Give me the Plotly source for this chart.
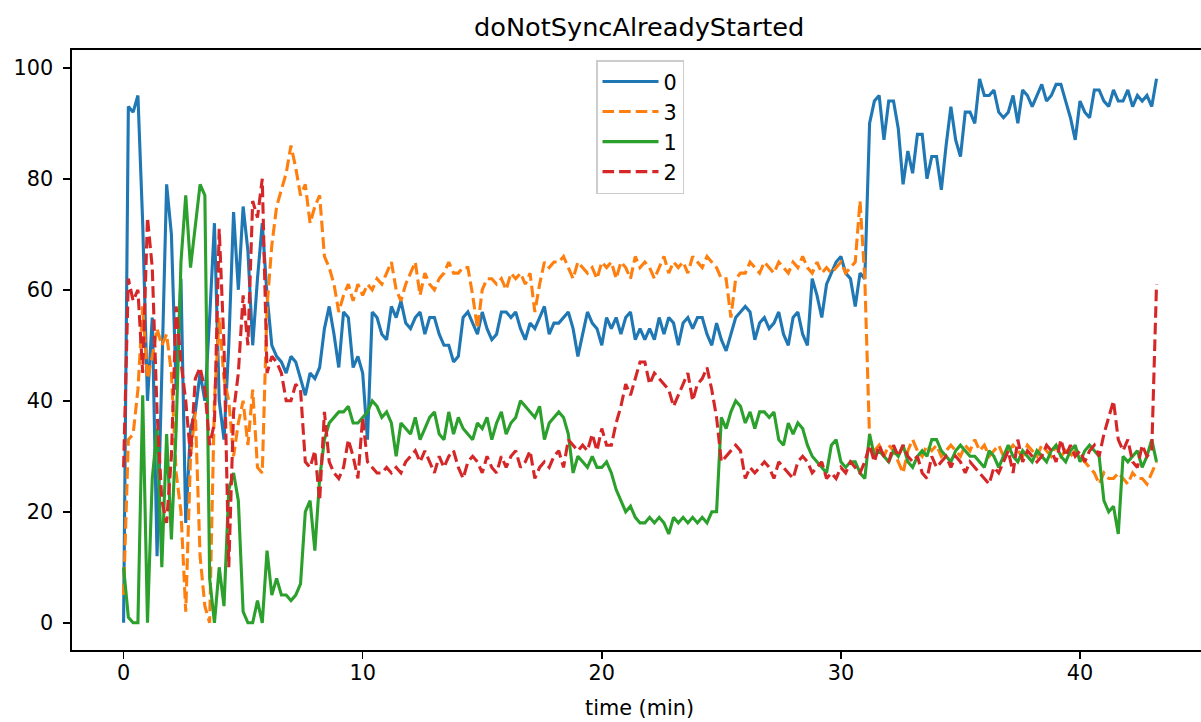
import numpy as np
import plotly.graph_objects as go

# sampling step of the recorded series (minutes)
STEP_MIN = 0.2

# each row = one minute (5 samples, 0.2 min apart)
series_0 = [
    0, 93, 92, 95, 72,
    40, 55, 12, 45, 79,
    70, 42, 62, 18, 35,
    38, 45, 40, 55, 72,
    40, 33, 50, 74, 60,
    75, 67, 50, 62, 72,
    59, 50, 48, 47, 45,
    48, 47, 44, 41, 45,
    44, 46, 53, 57, 52,
    46, 56, 55, 46, 48,
    45, 33, 56, 55, 52,
    51, 57, 55, 58, 54,
    53, 55, 56, 52, 55,
    55, 52, 50, 50, 47,
    48, 55, 56, 54, 52,
    56, 53, 51, 52, 56,
    56, 55, 56, 53, 51,
    54, 53, 55, 57, 52,
    54, 54, 55, 56, 53,
    48, 52, 56, 54, 53,
    50, 55, 53, 55, 52,
    55, 56, 51, 53, 51,
    53, 51, 55, 52, 55,
    54, 50, 54, 55, 53,
    55, 55, 52, 50, 54,
    51, 49, 52, 55, 56,
    57, 56, 51, 54, 55,
    53, 54, 56, 52, 50,
    55, 56, 52, 50, 62,
    59, 55, 61, 63, 65,
    66, 63, 62, 57, 63,
    62, 90, 94, 95, 87,
    94, 94, 89, 79, 85,
    81, 88, 88, 80, 84,
    84, 78, 86, 93, 87,
    84, 92, 92, 90, 98,
    95, 95, 96, 92, 91,
    92, 95, 90, 96, 95,
    93, 95, 97, 94, 95,
    97, 97, 94, 91, 87,
    94, 92, 91, 96, 96,
    94, 93, 96, 94, 94,
    96, 93, 95, 94, 95,
    93, 98,
]

series_3 = [
    5, 33, 34, 42, 57,
    44, 48, 53, 50, 52,
    45, 27, 20, 2, 30,
    38, 12, 3, 0, 40,
    55, 44, 40, 30, 36,
    40, 32, 42, 28, 27,
    57, 68, 75, 78, 81,
    86, 82, 77, 79, 72,
    75, 77, 66, 64, 61,
    56, 59, 61, 58, 61,
    59, 61, 60, 62, 61,
    63, 65, 60, 58, 61,
    63, 65, 59, 63, 61,
    60, 62, 63, 65, 63,
    63, 64, 64, 59, 53,
    60, 62, 62, 61, 62,
    60, 63, 62, 63, 61,
    63, 56, 61, 65, 64,
    65, 65, 66, 64, 62,
    65, 64, 63, 64, 62,
    65, 64, 65, 62, 65,
    64, 62, 66, 64, 65,
    64, 62, 64, 66, 63,
    65, 64, 65, 63, 66,
    65, 64, 66, 65, 64,
    62, 62, 55, 62, 63,
    63, 65, 64, 63, 65,
    64, 63, 65, 64, 63,
    65, 64, 66, 64, 63,
    65, 63, 64, 63, 64,
    65, 63, 64, 65, 76,
    62, 33, 31, 32, 30,
    32, 31, 29, 27, 31,
    33, 31, 30, 32, 31,
    32, 30, 31, 32, 31,
    30, 32, 31, 33, 31,
    32, 30, 31, 32, 30,
    31, 32, 31, 30, 32,
    31, 30, 32, 31, 30,
    32, 30, 31, 30, 31,
    30, 29, 28, 27, 25,
    27, 26, 26, 27, 26,
    25, 27, 26, 26, 25,
    27, 29,
]

series_1 = [
    10, 1, 0, 0, 41,
    0, 26, 35, 10, 34,
    15, 35, 65, 77, 64,
    72, 79, 77, 8, 0,
    10, 3, 24, 27, 22,
    2, 0, 0, 4, 0,
    13, 5, 8, 5, 5,
    4, 5, 7, 20, 22,
    13, 26, 33, 36, 37,
    38, 38, 39, 36, 36,
    37, 38, 40, 39, 37,
    38, 36, 30, 36, 35,
    34, 37, 33, 35, 37,
    38, 34, 33, 38, 34,
    37, 35, 34, 33, 36,
    35, 37, 33, 36, 38,
    34, 36, 37, 40, 39,
    38, 37, 39, 33, 36,
    37, 38, 37, 34, 27,
    30, 29, 28, 30, 28,
    28, 29, 27, 24, 22,
    20, 21, 19, 18, 18,
    19, 18, 19, 18, 16,
    19, 18, 19, 18, 19,
    18, 19, 18, 20, 20,
    37, 35, 38, 40, 39,
    36, 38, 35, 38, 38,
    37, 38, 33, 32, 36,
    34, 36, 35, 32, 30,
    29, 28, 27, 32, 33,
    29, 28, 29, 29, 27,
    26, 34, 30, 31, 30,
    29, 31, 30, 32, 29,
    28, 30, 31, 30, 33,
    33, 31, 30, 29, 31,
    32, 31, 30, 30, 29,
    28, 31, 30, 28, 30,
    32, 30, 29, 31, 30,
    29, 31, 30, 29, 31,
    32, 30, 29, 31, 32,
    29, 31, 32, 31, 30,
    22, 20, 21, 16, 30,
    29, 30, 31, 28, 30,
    33, 29,
]

series_2 = [
    28, 62, 58, 60, 45,
    73, 64, 38, 22, 18,
    30, 57, 47, 40, 30,
    44, 46, 42, 32, 36,
    71, 50, 10, 38, 45,
    59, 50, 76, 73, 80,
    45, 48, 47, 45, 40,
    40, 43, 42, 29, 28,
    31, 22, 38, 29, 27,
    26, 28, 33, 30, 26,
    37, 29, 28, 27, 27,
    28, 27, 28, 27, 29,
    30, 31, 29, 31, 29,
    27, 30, 28, 30, 31,
    28, 26, 29, 30, 29,
    27, 30, 28, 27, 30,
    28, 30, 31, 28, 29,
    31, 26, 28, 29, 28,
    30, 31, 28, 33, 32,
    31, 32, 31, 34, 31,
    35, 32, 32, 36, 39,
    43, 41, 44, 47, 47,
    43, 45, 44, 43, 42,
    39, 41, 43, 45, 40,
    43, 44, 46, 42, 37,
    29, 30, 31, 32, 31,
    26, 28, 27, 28, 29,
    28, 26, 29, 28, 27,
    26, 29, 30, 29, 27,
    28, 29, 26, 27, 26,
    28, 27, 29, 28, 27,
    29, 32, 29, 32, 30,
    29, 32, 30, 32, 30,
    29, 30, 27, 26, 30,
    28, 29, 30, 28, 30,
    29, 27, 29, 28, 27,
    26, 25, 28, 27, 29,
    31, 27, 33, 29, 31,
    30, 29, 30, 32, 31,
    29, 33, 30, 32, 30,
    31, 29, 31, 32, 30,
    34, 37, 40, 33, 31,
    33, 29, 28, 32, 30,
    31, 61,
]

series_names = ["0", "3", "1", "2"]
series_values = [series_0, series_3, series_1, series_2]
series_colors = ["#1f77b4", "#ff7f0e", "#2ca02c", "#d62728"]
series_dash = ["solid", "11.6px,5px", "solid", "11.6px,5px"]

x_ticks = [0, 10, 20, 30, 40]
y_ticks = [0, 20, 40, 60, 80, 100]

title_text = "doNotSyncAlreadyStarted"
xlabel_text = "time (min)"

FONT = "DejaVu Sans"
W, H = 1201, 722
ML, MR, MT, MB = 72, 0, 50, 72
PW, PH = W - ML - MR, H - MT - MB


def px_x(px):
    return (px - ML) / PW


def px_y(py):
    return (H - MB - py) / PH


fig = go.Figure()
for name, vals, col, dash in zip(series_names, series_values, series_colors, series_dash):
    t = np.round(np.arange(len(vals)) * STEP_MIN, 2)
    fig.add_trace(go.Scatter(
        x=t, y=vals, mode="lines", name=name,
        line=dict(color=col, width=3.1, dash=dash),
        hoverinfo="skip",
    ))

axis_common = dict(
    showgrid=False, zeroline=False,
    showline=True, linecolor="black", linewidth=1.6,
    ticks="outside", ticklen=7, tickwidth=1.6, tickcolor="black",
    tickfont=dict(family=FONT, size=20.8, color="black"),
)

fig.update_layout(
    width=W, height=H, autosize=False,
    margin=dict(l=ML, r=MR, t=MT, b=MB, pad=0),
    paper_bgcolor="white", plot_bgcolor="white",
    font=dict(family=FONT, color="black"),
    xaxis=dict(range=[-2.157, 45.06], tickvals=x_ticks, mirror=True,
               ticklabelstandoff=-4, **axis_common),
    yaxis=dict(range=[-4.9, 103.2], tickvals=y_ticks, mirror=False,
               ticklabelstandoff=6, **axis_common),
    showlegend=True,
    legend=dict(
        x=px_x(596), y=px_y(60),
        xanchor="left", yanchor="top",
        bgcolor="rgba(255,255,255,0.8)", bordercolor="#cccccc", borderwidth=1.5,
        font=dict(family=FONT, size=20.8, color="black"),
        tracegroupgap=0, itemwidth=56,
    ),
    annotations=[
        dict(text=title_text, xref="paper", yref="paper",
             x=px_x(639), y=px_y(27),
             xanchor="center", yanchor="middle", showarrow=False,
             font=dict(family=FONT, size=25.6, color="black")),
        dict(text=xlabel_text, xref="paper", yref="paper",
             x=px_x(639), y=px_y(708),
             xanchor="center", yanchor="middle", showarrow=False,
             font=dict(family=FONT, size=20.8, color="black")),
    ],
    hovermode=False,
)

fig.write_html(
    "out.html",
    config={"displayModeBar": False, "staticPlot": True},
    post_script="document.body.style.margin='0px';document.body.style.padding='0px';",
)
